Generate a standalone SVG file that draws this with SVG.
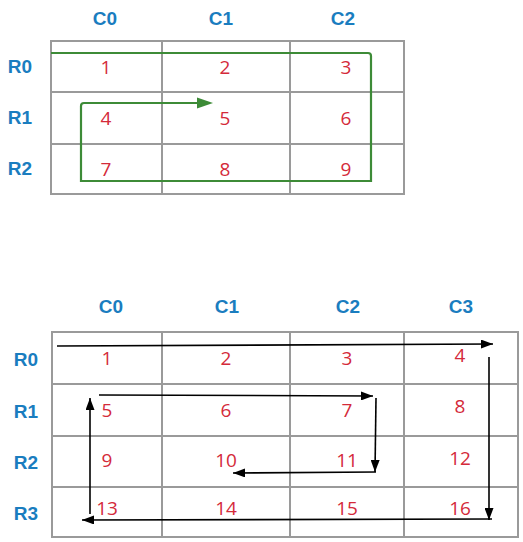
<svg xmlns="http://www.w3.org/2000/svg" width="523" height="542" viewBox="0 0 523 542">
<defs>
<style>
.grid{fill:none;stroke:#9a9a9a;stroke-width:2}
.hdr{font-family:"Liberation Sans",Arial,sans-serif;font-weight:bold;font-size:19px;fill:#1a7dbf;text-anchor:middle}
.num{font-family:"Open Sans","Noto Sans",sans-serif;font-size:19px;fill:#d42a3a;text-anchor:middle}
.blk{fill:none;stroke:#000;stroke-width:1.6}
.grn{fill:none;stroke:#3d8b37;stroke-width:2.2}
</style>
<marker id="ah" markerWidth="12" markerHeight="9" refX="12" refY="4.5" orient="auto" markerUnits="userSpaceOnUse">
<path d="M0,0 L12,4.5 L0,9 Z" fill="#000"/>
</marker>
</defs>
<rect width="523" height="542" fill="#fff"/>
<g id="grid1">
<rect class="grid" x="51" y="41" width="353" height="153"/>
<path class="grid" d="M162,41V194M290,41V194M51,92H404M51,144H404"/>
<text class="hdr" x="105" y="25">C0</text>
<text class="hdr" x="221" y="25">C1</text>
<text class="hdr" x="343" y="25">C2</text>
<text class="hdr" x="20" y="73">R0</text>
<text class="hdr" x="20" y="124">R1</text>
<text class="hdr" x="20" y="175">R2</text>
<text class="num" x="106" y="74">1</text>
<text class="num" x="225" y="74">2</text>
<text class="num" x="346" y="74">3</text>
<text class="num" x="106" y="125">4</text>
<text class="num" x="225" y="125">5</text>
<text class="num" x="346" y="125">6</text>
<text class="num" x="106" y="176">7</text>
<text class="num" x="225" y="176">8</text>
<text class="num" x="346" y="176">9</text>
</g>
<g id="grid2">
<rect class="grid" x="52" y="332" width="466" height="205"/>
<path class="grid" d="M162,332V537M290,332V537M404,332V537M52,384H518M52,436H518M52,487H518"/>
<text class="hdr" x="111" y="313">C0</text>
<text class="hdr" x="227" y="313">C1</text>
<text class="hdr" x="348" y="313">C2</text>
<text class="hdr" x="461" y="313">C3</text>
<text class="hdr" x="26" y="366">R0</text>
<text class="hdr" x="26" y="418">R1</text>
<text class="hdr" x="26" y="469">R2</text>
<text class="hdr" x="26" y="520">R3</text>
<text class="num" x="107" y="365">1</text>
<text class="num" x="226" y="365">2</text>
<text class="num" x="347" y="365">3</text>
<text class="num" x="460" y="362">4</text>
<text class="num" x="107" y="417">5</text>
<text class="num" x="226" y="417">6</text>
<text class="num" x="347" y="417">7</text>
<text class="num" x="460" y="413">8</text>
<text class="num" x="107" y="467">9</text>
<text class="num" x="226" y="467">10</text>
<text class="num" x="347" y="467">11</text>
<text class="num" x="460" y="465">12</text>
<text class="num" x="107" y="515">13</text>
<text class="num" x="226" y="515">14</text>
<text class="num" x="347" y="515">15</text>
<text class="num" x="460" y="515">16</text>
</g>
<g id="connectors">
<path class="grn" d="M51,53H368Q371,53 371,56V181H81V106Q81,103 84,103H199"/>
<path d="M197,97.5L213,103L197,108.5Z" fill="#3d8b37"/>
<path class="blk" marker-end="url(#ah)" d="M57,346L493,344"/>
<path class="blk" marker-end="url(#ah)" d="M489,357L489,520"/>
<path class="blk" marker-end="url(#ah)" d="M492,519L82,520"/>
<path class="blk" marker-end="url(#ah)" d="M90,514L90,398"/>
<path class="blk" marker-end="url(#ah)" d="M99,395L373,396"/>
<path class="blk" marker-end="url(#ah)" d="M376,398L375,472"/>
<path class="blk" marker-end="url(#ah)" d="M376,472L233,473"/>
</g>
</svg>
